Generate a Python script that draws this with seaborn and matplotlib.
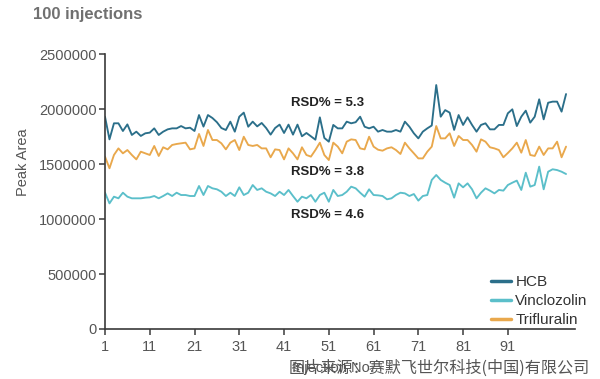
import numpy as np
import pandas as pd
import matplotlib
matplotlib.use("Agg")
import matplotlib.pyplot as plt
import seaborn as sns

# ---- data (peak areas in millions) ----
hcb = [1.930, 1.724, 1.870, 1.870, 1.800, 1.860, 1.764, 1.794, 1.755, 1.779,
       1.785, 1.824, 1.764, 1.794, 1.815, 1.824, 1.824, 1.845, 1.824, 1.830,
       1.800, 1.945, 1.840, 1.945, 1.918, 1.880, 1.827, 1.809, 1.885, 1.794,
       1.930, 1.967, 1.839, 1.885, 1.842, 1.873, 1.827, 1.767, 1.827, 1.858,
       1.782, 1.858, 1.767, 1.858, 1.752, 1.782, 1.752, 1.721, 1.924, 1.737,
       1.703, 1.855, 1.824, 1.824, 1.885, 1.870, 1.880, 1.930, 1.839, 1.824,
       1.839, 1.794, 1.809, 1.794, 1.794, 1.809, 1.794, 1.885, 1.839, 1.779,
       1.733, 1.794, 1.824, 1.850, 2.218, 1.930, 1.990, 1.967, 1.810, 1.945,
       1.855, 1.924, 1.855, 1.794, 1.855, 1.870, 1.815, 1.815, 1.855, 1.855,
       1.961, 1.997, 1.845, 1.930, 1.985, 1.876, 1.930, 2.088, 1.906, 2.057,
       2.067, 2.067, 1.976, 2.136]
vinclozolin = [1.240, 1.142, 1.203, 1.188, 1.239, 1.203, 1.188, 1.188, 1.188, 1.194,
               1.197, 1.209, 1.188, 1.209, 1.233, 1.209, 1.239, 1.218, 1.218, 1.209,
               1.209, 1.300, 1.218, 1.300, 1.279, 1.270, 1.248, 1.209, 1.239, 1.209,
               1.288, 1.218, 1.239, 1.309, 1.264, 1.279, 1.248, 1.233, 1.209, 1.248,
               1.218, 1.264, 1.209, 1.157, 1.203, 1.188, 1.218, 1.157, 1.218, 1.239,
               1.157, 1.264, 1.209, 1.218, 1.248, 1.294, 1.279, 1.239, 1.203, 1.270,
               1.218, 1.215, 1.209, 1.179, 1.188, 1.218, 1.239, 1.233, 1.209, 1.227,
               1.167, 1.209, 1.218, 1.355, 1.400, 1.355, 1.330, 1.309, 1.194, 1.324,
               1.288, 1.324, 1.270, 1.188, 1.239, 1.279, 1.258, 1.233, 1.264, 1.258,
               1.309, 1.330, 1.349, 1.264, 1.421, 1.294, 1.309, 1.476, 1.270, 1.430,
               1.452, 1.445, 1.430, 1.409]
trifluralin = [1.567, 1.461, 1.582, 1.642, 1.597, 1.627, 1.582, 1.542, 1.612, 1.597,
               1.582, 1.664, 1.573, 1.652, 1.633, 1.673, 1.682, 1.688, 1.694, 1.633,
               1.642, 1.773, 1.664, 1.809, 1.718, 1.718, 1.688, 1.633, 1.694, 1.718,
               1.627, 1.748, 1.673, 1.664, 1.673, 1.642, 1.642, 1.561, 1.633, 1.627,
               1.542, 1.642, 1.597, 1.542, 1.652, 1.582, 1.567, 1.627, 1.694, 1.582,
               1.536, 1.694, 1.658, 1.597, 1.703, 1.724, 1.718, 1.642, 1.633, 1.748,
               1.658, 1.630, 1.621, 1.642, 1.652, 1.627, 1.591, 1.694, 1.642, 1.597,
               1.551, 1.551, 1.612, 1.658, 1.845, 1.733, 1.733, 1.779, 1.664, 1.755,
               1.718, 1.718, 1.673, 1.612, 1.724, 1.703, 1.652, 1.642, 1.627, 1.561,
               1.600, 1.642, 1.694, 1.603, 1.718, 1.582, 1.573, 1.658, 1.582, 1.642,
               1.642, 1.703, 1.561, 1.658]

series_names = ["HCB", "Vinclozolin", "Trifluralin"]
colors = ["#2b6f8a", "#5bbfca", "#e9a84c"]
rsd_labels = ["RSD% = 5.3", "RSD% = 3.8", "RSD% = 4.6"]
rsd_y = [2.055e6, 1.427e6, 1.036e6]
y_ticks = [0, 500000, 1000000, 1500000, 2000000, 2500000]
x_ticks = [1, 11, 21, 31, 41, 51, 61, 71, 81, 91]

sns.set_style("ticks")
plt.rcParams["font.family"] = ["Liberation Sans", "Noto Sans CJK SC", "DejaVu Sans"]

runs = np.arange(1, len(hcb) + 1)
df = pd.DataFrame({
    "Run": np.concatenate([runs, runs, runs]),
    "Peak Area": np.concatenate([np.array(hcb), np.array(vinclozolin), np.array(trifluralin)]) * 1e6,
    "Compound": np.repeat(series_names, len(runs)),
})

fig = plt.figure(figsize=(6.0, 3.79), dpi=100)
ax = fig.add_axes([105 / 600, 1 - 329 / 379, 470 / 600, 275 / 379])

sns.lineplot(data=df, x="Run", y="Peak Area", hue="Compound", hue_order=series_names,
             palette=colors, linewidth=1.35, ax=ax, legend=True)

ax.set_xlim(1, 106)
ax.set_ylim(0, 2500000)
ax.set_xticks(x_ticks)
ax.set_xticklabels([str(t) for t in x_ticks])
ax.set_yticks(y_ticks)
ax.set_yticklabels([str(t) for t in y_ticks])
sns.despine(ax=ax)
for s in ["left", "bottom"]:
    ax.spines[s].set_color("#3a3a3a")
    ax.spines[s].set_linewidth(1.2)
ax.tick_params(axis="both", colors="#3a3a3a", labelcolor="#555555", labelsize=10.5,
               length=4, width=1.1, direction="out", pad=2)
ax.tick_params(axis="x", pad=4)

ax.set_xlabel("Injection No.", fontsize=10.5, color="#555555")
ax.xaxis.set_label_coords(0.485, -0.142)
ax.xaxis.label.set_va("center")
ax.set_ylabel("Peak Area", fontsize=10.5, color="#555555")
ax.yaxis.set_label_coords(-0.16, 0.607)

for lab, yv in zip(rsd_labels, rsd_y):
    ax.text(42.5, yv, lab, fontsize=9.5, fontweight="bold", color="#222222",
            ha="left", va="center")

leg = ax.legend(loc="lower right", bbox_to_anchor=(1.04, -0.015), frameon=False,
                fontsize=11, handlelength=1.3, handletextpad=0.3, labelspacing=0.32,
                borderaxespad=0.0)
for line in leg.get_lines():
    line.set_linewidth(2.5)
for t in leg.get_texts():
    t.set_color("#333333")

fig.text(33 / 600, 1 - 15 / 379, "100 injections", fontsize=12, fontweight="bold",
         color="#707070", ha="left", va="center")
fig.text(590 / 600, 1 - 368 / 379, "图片来源：赛默飞世尔科技(中国)有限公司", fontsize=11.6,
         color="#555555", ha="right", va="center",
         family=["Noto Sans CJK SC", "DejaVu Sans"])

fig.savefig("out.png", dpi=100)
